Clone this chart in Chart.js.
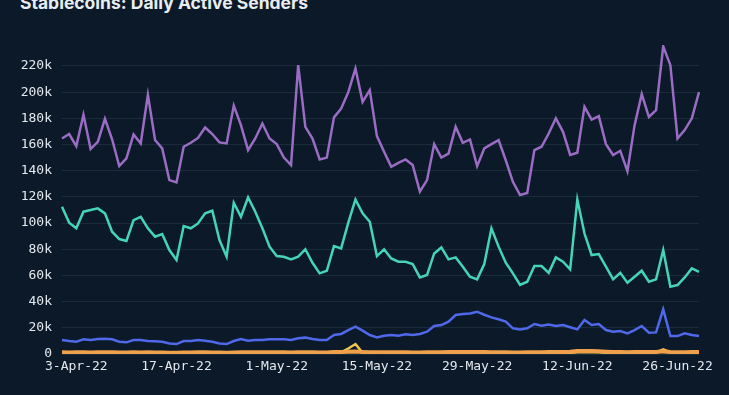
<!DOCTYPE html>
<html>
<head>
<meta charset="utf-8">
<script src="https://cdn.jsdelivr.net/npm/chart.js@4.4.0/dist/chart.umd.min.js"></script>
<style>
  html, body { margin: 0; padding: 0; background: #0b1928; overflow: hidden; }
  #wrap { position: relative; width: 729px; height: 395px; }
  #title { position: absolute; left: 20px; top: -7px; font: 700 17.5px Inter, "Open Sans", sans-serif; line-height: 20px; color: #e8edf1; white-space: nowrap; }
  canvas { position: absolute; left: 0; top: 0; }
</style>
</head>
<body>
<div id="wrap">
  <div id="title">Stablecoins: Daily Active Senders</div>
  <canvas id="c" width="729" height="395"></canvas>
</div>
<script>
// Values in thousands of daily active senders, 1-Apr-22 .. 29-Jun-22
const dayCount = 90;
const monthNames = ['Jan','Feb','Mar','Apr','May','Jun','Jul','Aug','Sep','Oct','Nov','Dec'];
const categories = [];
for (let i = 0; i < dayCount; i++) {
  const d = new Date(2022, 3, 1 + i);
  categories.push(d.getDate() + '-' + monthNames[d.getMonth()] + '-22');
}
const tickLabels = ['3-Apr-22','17-Apr-22','1-May-22','15-May-22','29-May-22','12-Jun-22','26-Jun-22'];
const yTicks = [0,20,40,60,80,100,120,140,160,180,200,220];

const purpleSeries = [
164.6,168,158.8,182.7,156.5,162,179.6,164,143.5,149.4,
167.7,160.8,198,163.4,157,132.8,131,158.3,161.3,165,
173,168,161.6,160.8,189.7,174.8,155.7,164.6,176,164.6,
160.3,150,144.3,220.6,173.5,164.6,148.6,150,180.7,187.5,
200,218,192.6,201.5,166.4,154.5,143,146,148.6,144.3,
124,132.8,160.3,150,153,173.5,161.3,163.9,143.5,157,
160.3,163.4,148,131.5,121.4,123,155.7,158.3,168.4,180,
169.7,152,153.7,188.8,179,181.7,160.3,152,155.2,139.7,
174.8,198.5,181,186.3,235,220.6,164.6,171,180,200];

const tealSeries = [
112.5,100.3,96,108.7,110,111.2,107.4,93.4,87.8,86.3,
102.3,104.8,96,89.6,91.6,79.4,71.8,97.7,96,99.7,
107.4,109.4,87,74.3,115.5,104.8,119.6,108.6,96,82,
74.8,74.3,72.3,74.3,80,69.7,61.6,63.6,82.4,80.7,
100.3,118,107.4,101,74.8,80,73,70.5,70.5,68.7,
58.5,60.3,76.8,81.4,72.3,73.8,66.7,59,57,68.7,
96,82,69.7,61.6,52.7,55.2,67.2,67.2,62,73.8,
70.5,64.6,118,92,75.6,76.3,66.7,57,62,54.5,
59,63.6,55.2,57,79.4,51.4,52.7,58.5,65.4,62.8];

const blueSeries = [
10.7,9.9,9.4,11.2,10.7,11.5,11.7,11.2,9.4,8.9,
10.7,10.7,9.9,9.7,9.4,8.1,7.6,9.9,9.9,10.7,
10.2,9.4,8.1,7.6,9.9,11.5,10.2,10.7,10.7,11.2,
11.2,11.2,10.7,12,12.5,11.5,10.7,10.7,14.5,15.3,
18.3,20.9,17.8,14.5,12.7,14,14.5,14,15,14.5,
15.3,17,21.4,22.1,24.7,29.8,30.5,31,32.3,30,
28,26.5,24.7,19.6,18.8,19.6,22.9,21.6,22.6,21.4,
22.1,20.4,18.8,26,22.1,22.9,18.3,17,17.6,15.8,
18.3,21.4,16.3,16.5,34.1,13.7,13.7,15.8,14.5,13.7];

const orangeSeries = [
1.3,1.2,1.4,1.3,1.2,1.3,1.4,1.3,1.2,1.1,
1.3,1.2,1.3,1.2,1.1,1.0,1.0,1.2,1.2,1.3,
1.3,1.2,1.1,1.0,1.2,1.4,1.4,1.3,1.3,1.4,
1.3,1.3,1.2,1.3,1.4,1.3,1.2,1.2,1.5,1.6,
1.8,1.9,1.6,1.4,1.3,1.3,1.4,1.3,1.3,1.2,
1.2,1.3,1.4,1.4,1.5,1.5,1.6,1.6,1.5,1.5,
1.4,1.4,1.3,1.2,1.2,1.3,1.4,1.4,1.5,1.5,
1.6,1.7,2.2,2.3,2.2,2.1,1.8,1.6,1.5,1.4,
1.5,1.5,1.6,1.5,2.0,1.6,1.4,1.4,1.5,1.5];

const yellowSeries = [
0.6,0.6,0.7,0.6,0.6,0.6,0.7,0.6,0.6,0.6,
0.6,0.6,0.6,0.6,0.5,0.5,0.5,0.6,0.6,0.6,
0.6,0.6,0.5,0.5,0.6,0.7,0.7,0.6,0.6,0.7,
0.6,0.6,0.6,0.7,0.7,0.6,0.6,0.6,0.8,1.2,
4.2,7.6,1.0,0.8,0.7,0.7,0.7,0.7,0.7,0.6,
0.6,0.7,0.7,0.7,0.8,0.8,0.8,0.8,0.7,0.7,
0.7,0.7,0.6,0.6,0.6,0.7,0.7,0.7,0.8,0.8,
0.9,1.0,1.4,1.5,1.4,1.3,1.0,0.9,0.8,0.8,
0.8,0.8,0.9,1.2,3.6,1.2,0.8,0.8,0.8,0.8];

const yMax = 236;

function ds(data, color, width) {
  return { data: data, borderColor: color, backgroundColor: color, borderWidth: width,
           pointRadius: 0, pointHoverRadius: 0, tension: 0, fill: false };
}

new Chart(document.getElementById('c'), {
  type: 'line',
  data: {
    labels: categories,
    datasets: [
      ds(purpleSeries, '#9a6cc4', 2.5),
      ds(tealSeries, '#45d4b7', 2.5),
      ds(blueSeries, '#5068ea', 2.5),
      ds(orangeSeries, '#f0a04a', 4),
      ds(yellowSeries, '#f2c64c', 2.5)
    ]
  },
  options: {
    responsive: false,
    animation: false,
    layout: { padding: { left: 0, right: 30, top: 45, bottom: 0 } },
    plugins: { legend: { display: false }, tooltip: { enabled: false }, title: { display: false } },
    scales: {
      x: {
        offset: false,
        grid: { display: false, drawTicks: false },
        border: { display: false },
        afterFit: (s) => { s.height = 41; },
        ticks: {
          autoSkip: false, maxRotation: 0, minRotation: 0, padding: 5,
          color: '#e4e9ee',
          font: { family: '"DejaVu Sans Mono", monospace', size: 13 },
          callback: function(v, i) {
            const lab = categories[i];
            return tickLabels.includes(lab) ? lab : null;
          }
        }
      },
      y: {
        min: 0, max: yMax,
        afterFit: (s) => { s.width = 62; },
        afterBuildTicks: (s) => { s.ticks = yTicks.map(v => ({ value: v })); },
        grid: { color: '#1a2c3a', lineWidth: 1, drawTicks: false },
        border: { display: false },
        ticks: {
          padding: 10,
          color: '#e4e9ee',
          font: { family: '"DejaVu Sans Mono", monospace', size: 13 },
          callback: (v) => v === 0 ? '0' : v + 'k'
        }
      }
    }
  }
});
</script>
</body>
</html>
